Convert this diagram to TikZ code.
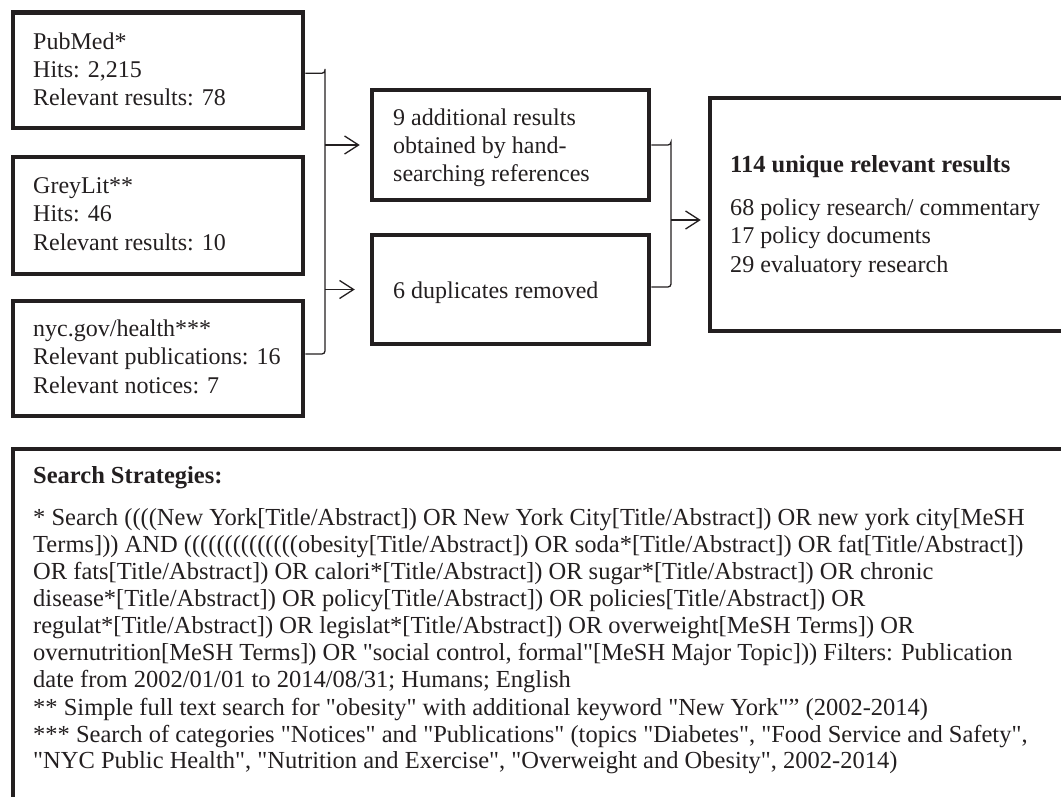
\documentclass[tikz,border=0pt]{standalone}
\usepackage{fontspec}
\setmainfont{Liberation Serif}[Ligatures=TeXOff]
\usetikzlibrary{arrows.meta}
\definecolor{ink}{RGB}{35,31,32}
\begin{document}
\begin{tikzpicture}[x=1pt,y=-1pt,
  box/.style={draw=ink, line width=4.5pt, inner sep=0pt},
  txt/.style={anchor=base west, align=left, inner sep=0pt, text=ink,
    font=\fontsize{24}{28.3}\selectfont},
  smalltxt/.style={txt, font=\fontsize{24.5}{26.9}\selectfont},
  conn/.style={draw=ink, line width=1.3pt},
  arr/.style={conn, -{Straight Barb[length=14pt,width=18pt,line width=1.3pt]}}]
\useasboundingbox (0,0) rectangle (1061,797);

% source boxes (text nodes anchored at the baseline of their last line)
\node[box, minimum width=290pt, minimum height=115.5pt] (pubmed) at (158,70.25) {};
\node[box, minimum width=290pt, minimum height=117pt] (greylit) at (158,215.5) {};
\node[box, minimum width=290pt, minimum height=115pt] (nyc) at (158,358.5) {};
\node[txt] (pubmedtxt) at (33,106) {PubMed*\\Hits: 2,215\\Relevant results: 78};
\node[txt] (greylittxt) at (33,250) {GreyLit**\\Hits: 46\\Relevant results: 10};
\node[txt] (nyctxt) at (33,393) {nyc.gov/health***\\Relevant publications: 16\\Relevant notices: 7};

% middle boxes
\node[box, minimum width=277pt, minimum height=110pt] (hand) at (510.5,145) {};
\node[box, minimum width=277pt, minimum height=109pt] (dup) at (510.5,289.5) {};
\node[txt] (handtxt) at (393,182) {9 additional results\\obtained by hand-\\searching references};
\node[txt] (duptxt) at (393,298) {6 duplicates removed};

% final box
\node[box, minimum width=370pt, minimum height=233pt] (final) at (895,214.5) {};
\node[txt, font=\fontsize{24.5}{28.3}\selectfont\bfseries] (finalhead) at (730,173) {114 unique relevant results};
\node[txt, font=\fontsize{24.1}{28.5}\selectfont] (finaltxt) at (730,272) {68 policy research/ commentary\\17 policy documents\\29 evaluatory research};

% brackets and arrows
\coordinate (b1) at (325,67);
\coordinate (b2) at (671,145);
\draw[conn, rounded corners=3pt] ([yshift=-3pt]pubmed.east) -| (b1) |- ([yshift=4.5pt]nyc.east);
\draw[arr, shorten >=10pt] (b1 |- hand.west) -- (hand.west);
\draw[arr, shorten >=15pt] (b1 |- dup.west) -- (dup.west);
\draw[conn, rounded corners=3pt] (hand.east) -| (b2) |- ([yshift=2.5pt]dup.east);
\draw[arr, shorten >=7pt] (b2 |- 0,220) -- (final.west |- 0,220);

% search strategies
\node[box, minimum width=1067pt, minimum height=371pt] (strat) at (546.5,634.5) {};
\node[txt, font=\fontsize{24.5}{28}\selectfont\bfseries] (strathead) at (33,483) {Search Strategies:};
\node[smalltxt] (strat1) at (33,687) {* Search ((((New York[Title/Abstract]) OR New York City[Title/Abstract]) OR new york city[MeSH\\
Terms])) AND ((((((((((((((obesity[Title/Abstract]) OR soda*[Title/Abstract]) OR fat[Title/Abstract])\\
OR fats[Title/Abstract]) OR calori*[Title/Abstract]) OR sugar*[Title/Abstract]) OR chronic\\
disease*[Title/Abstract]) OR policy[Title/Abstract]) OR policies[Title/Abstract]) OR\\
regulat*[Title/Abstract]) OR legislat*[Title/Abstract]) OR overweight[MeSH Terms]) OR\\
overnutrition[MeSH Terms]) OR "social control, formal"[MeSH Major Topic])) Filters: Publication\\
date from 2002/01/01 to 2014/08/31; Humans; English};
\node[smalltxt] (strat2) at (33,715) {** Simple full text search for "obesity" with additional keyword "New York"” (2002-2014)};
\node[smalltxt, font=\fontsize{24.5}{25.5}\selectfont] (strat3) at (33,768) {*** Search of categories "Notices" and "Publications" (topics "Diabetes", "Food Service and Safety",\\
"NYC Public Health", "Nutrition and Exercise", "Overweight and Obesity", 2002-2014)};
\end{tikzpicture}
\end{document}
